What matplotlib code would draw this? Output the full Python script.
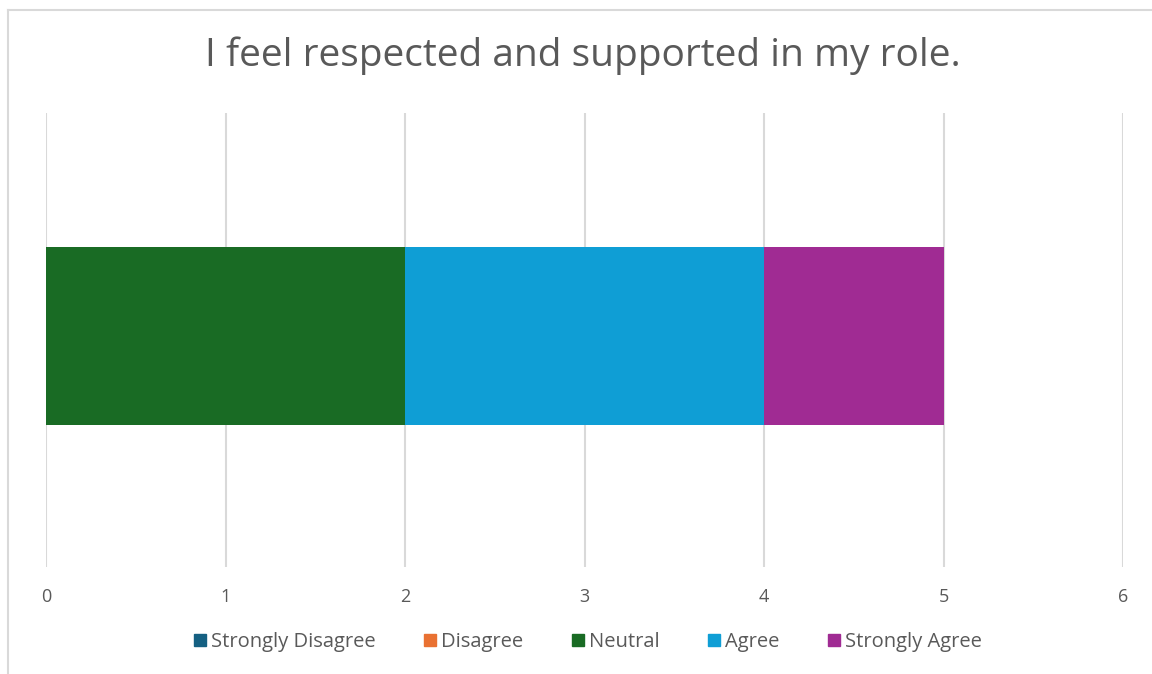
import matplotlib.pyplot as plt
from matplotlib.lines import Line2D

plt.rcParams['font.family'] = ['Open Sans', 'DejaVu Sans']

# survey responses
question = "I feel respected and supported in my role."
responses = ["Strongly Disagree", "Disagree", "Neutral", "Agree", "Strongly Agree"]
counts = [0, 0, 2, 2, 1]
colors = ["#156082", "#E97132", "#196B24", "#0F9ED5", "#A02B93"]
xticks = [0, 1, 2, 3, 4, 5, 6]

fig = plt.figure(figsize=(11.52, 6.74), dpi=100)
ax = fig.add_axes([46/1152, 1 - 567/674, (1123 - 46)/1152, (567 - 113)/674])

# stacked single bar
left = 0
for label, val, col in zip(responses, counts, colors):
    ax.barh([0], [val], left=left, height=0.4, color=col, label=label, zorder=3)
    left += val

ax.set_xlim(0, 6)
ax.set_ylim(-0.52, 0.5)
ax.set_xticks(xticks)
ax.set_yticks([])
ax.grid(axis='x', color='#D9D9D9', linewidth=1.5, zorder=0)
for s in ax.spines.values():
    s.set_visible(False)
ax.tick_params(axis='x', length=0, pad=15, labelsize=13, labelcolor='#595959')

fig.text(583/1152, 1 - 56/674, question, ha='center', va='center',
         fontsize=28, color='#595959')

# legend with square markers
handles = [plt.Rectangle((0, 0), 1, 1, color=c) for c in colors]
fig.legend(handles, responses, loc='center', bbox_to_anchor=(588/1152, 1 - 642/674),
           ncol=5, frameon=False, fontsize=14.5, labelcolor='#595959',
           handlelength=0.6, handleheight=0.6, handletextpad=0.25, columnspacing=2.4)

# chart frame (left and top edges visible)
fig.add_artist(Line2D([8/1152, 8/1152], [0, 1 - 10/674], color='#D9D9D9', lw=1.5,
                      transform=fig.transFigure))
fig.add_artist(Line2D([8/1152, 1], [1 - 10/674, 1 - 10/674], color='#D9D9D9', lw=1.5,
                      transform=fig.transFigure))

fig.savefig('out.png', dpi=100, facecolor='white')
